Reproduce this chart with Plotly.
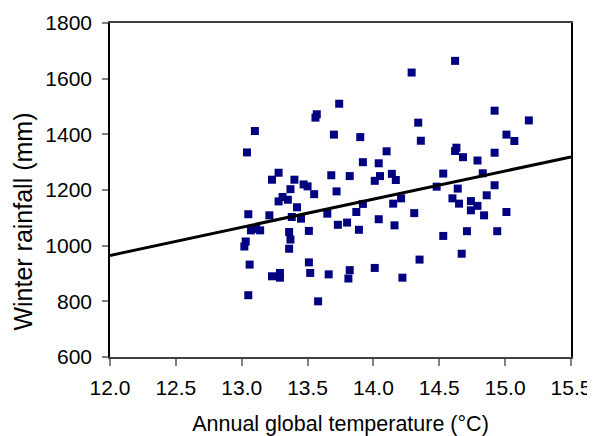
import plotly.graph_objects as go

# Annual global temperature (°C)
temp = [13.04, 13.10, 13.56, 13.57, 13.74, 13.70, 13.28, 13.23, 13.68, 13.40,
        13.47, 13.50, 13.37, 13.55, 13.72, 13.31, 13.35, 13.28, 13.42, 13.05,
        13.21, 13.38, 13.45, 13.65, 13.73, 13.80, 13.07, 13.11, 13.14, 13.36,
        13.37, 13.36, 13.51, 13.03, 13.02, 13.06, 13.51, 13.52, 13.23, 13.29,
        13.29, 13.66, 13.05, 13.58, 14.62, 14.29, 14.34, 13.90, 14.36, 14.10,
        13.92, 14.04, 13.82, 14.05, 14.14, 14.17, 14.01, 14.53, 14.63, 14.62,
        14.92, 15.18, 15.01, 15.07, 14.68, 14.79, 14.92, 14.83, 14.92, 14.48,
        14.64, 14.60, 14.65, 13.92, 14.15, 14.21, 13.87, 14.31, 13.89, 14.04,
        14.16, 14.53, 14.35, 13.82, 13.81, 14.01, 14.22, 14.86, 14.74, 14.79,
        14.74, 14.84, 15.01, 14.71, 14.94, 14.67]
# Winter rainfall (mm)
rain = [1335, 1412, 1460, 1472, 1510, 1399, 1262, 1237, 1253, 1237,
        1220, 1213, 1203, 1185, 1195, 1175, 1165, 1159, 1138, 1113,
        1109, 1103, 1097, 1115, 1075, 1083, 1055, 1060, 1055, 1049,
        1022, 989, 1053, 1015, 997, 932, 940, 902, 890, 902,
        885, 897, 822, 800, 1664, 1622, 1442, 1390, 1377, 1339,
        1300, 1296, 1250, 1250, 1258, 1236, 1233, 1259, 1352, 1340,
        1485, 1450, 1399, 1376, 1318, 1306, 1334, 1260, 1217, 1212,
        1205, 1170, 1151, 1150, 1151, 1170, 1121, 1117, 1057, 1095,
        1073, 1035, 950, 912, 882, 920, 885, 1181, 1160, 1143,
        1127, 1109, 1121, 1052, 1052, 971]

# Linear trend line end points
trend_x = [12.0, 15.5]
trend_y = [965, 1319]

x_ticks = [12.0, 12.5, 13.0, 13.5, 14.0, 14.5, 15.0, 15.5]
y_ticks = [600, 800, 1000, 1200, 1400, 1600, 1800]

font = "Liberation Sans, Arial, sans-serif"

fig = go.Figure()
fig.add_trace(go.Scatter(
    x=temp, y=rain, mode="markers",
    marker=dict(symbol="square", size=8, color="#000080", line=dict(width=0)),
    showlegend=False, cliponaxis=False))
fig.add_trace(go.Scatter(
    x=trend_x, y=trend_y, mode="lines",
    line=dict(color="black", width=3), showlegend=False))

# the page body adds an 8px offset, so the figure is 8px smaller
fig.update_layout(
    width=587, height=428,
    margin=dict(l=102, r=24, t=15, b=79),
    paper_bgcolor="white", plot_bgcolor="white",
    font=dict(family=font, size=21, color="black"),
)
fig.update_xaxes(
    range=[12.0, 15.5], tickvals=x_ticks, ticktext=[f"{v:.1f}" for v in x_ticks],
    showgrid=False, zeroline=False, showline=True, linecolor="#404040", linewidth=1.5,
    mirror=True, ticks="outside", ticklen=7, tickcolor="#808080", tickwidth=1.5,
    tickfont=dict(size=21), automargin=False, ticklabelstandoff=4,
    title=dict(text="Annual global temperature (°C)", font=dict(size=21.5), standoff=24),
)
fig.update_yaxes(
    range=[600, 1800], tickvals=y_ticks,
    showgrid=False, zeroline=False, showline=True, linecolor="black", linewidth=1.5,
    mirror=True, ticks="outside", ticklen=6, tickcolor="#808080", tickwidth=1.5,
    tickfont=dict(size=21), automargin=False, ticklabelstandoff=6,
)
fig.add_annotation(
    text="Winter rainfall (mm)", textangle=-90, showarrow=False,
    xref="paper", yref="paper", x=-0.189, y=0.405,
    xanchor="center", yanchor="middle", font=dict(size=25),
)

fig.write_html("out.html")
